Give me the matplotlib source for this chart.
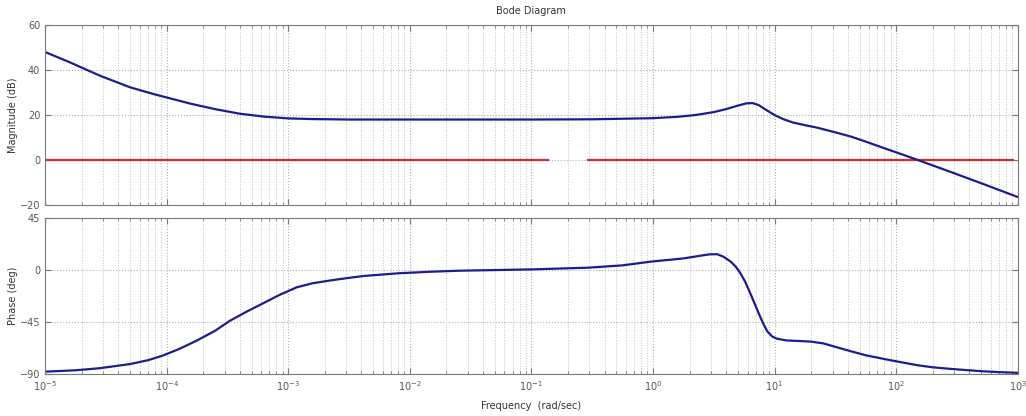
import matplotlib.pyplot as plt
import numpy as np
from matplotlib.ticker import FixedLocator, NullFormatter, LogFormatterMathtext

# Magnitude curve (log10 of rad/sec, dB)
mag_logw = [-5.0, -4.8, -4.55, -4.3, -4.1, -4.0, -3.8, -3.6, -3.4, -3.2,
            -3.0, -2.8, -2.5, -2.0, -1.0, -0.5, 0.0, 0.2, 0.35, 0.5, 0.6,
            0.7, 0.77, 0.82, 0.87, 0.93, 1.0, 1.07, 1.15, 1.25, 1.35, 1.5,
            1.63, 1.75, 1.9, 2.05, 2.2, 2.45, 2.72, 3.0]
mag_db = [48.0, 43.5, 37.5, 32.3, 29.2, 27.8, 25.0, 22.6, 20.6, 19.3,
          18.5, 18.2, 18.0, 18.0, 18.0, 18.1, 18.6, 19.2, 20.0, 21.3, 22.6,
          24.2, 25.2, 25.3, 24.4, 22.3, 20.0, 18.2, 16.7, 15.5, 14.4, 12.3,
          10.4, 8.2, 5.3, 2.5, -0.4, -5.3, -10.7, -16.4]

# Phase curve (log10 of rad/sec, deg)
ph_logw = [-5.0, -4.75, -4.55, -4.3, -4.15, -4.03, -3.9, -3.75, -3.6, -3.48,
           -3.35, -3.21, -3.07, -2.93, -2.8, -2.65, -2.5, -2.38, -2.1, -1.83,
           -1.58, -1.0, -0.53, -0.25, -0.02, 0.25, 0.4, 0.47, 0.53, 0.58,
           0.64, 0.68, 0.72, 0.76, 0.8, 0.84, 0.88, 0.91, 0.94, 0.98, 1.02,
           1.1, 1.21, 1.3, 1.4, 1.5, 1.63, 1.75, 1.9, 2.05, 2.18, 2.3, 2.45,
           2.6, 2.72, 2.85, 3.0]
ph_deg = [-88.0, -86.8, -85.0, -81.4, -78.0, -74.0, -68.5, -61.0, -52.5, -44.0,
          -36.5, -29.0, -21.5, -15.0, -11.5, -9.0, -6.8, -5.2, -2.9, -1.5,
          -0.6, 0.5, 2.0, 4.0, 7.2, 10.0, 12.5, 13.6, 13.6, 11.5,
          7.2, 3.0, -2.9, -10.5, -20.0, -30.0, -40.0, -47.0, -53.0, -57.5, -59.5,
          -61.0, -61.5, -62.0, -63.5, -66.5, -70.4, -73.8, -77.0, -80.0, -82.5, -84.2, -85.6,
          -86.8, -87.7, -88.4, -89.0]

# 0 dB reference line, drawn in two pieces
ref1_w = [1e-5, 0.138]
ref2_w = [0.295, 910.0]
ref_db = [0, 0]

decades = [-5, -4, -3, -2, -1, 0, 1, 2, 3]

mag_w = 10.0 ** np.array(mag_logw)
ph_w = 10.0 ** np.array(ph_logw)
major_w = [10.0 ** d for d in decades]
minor_w = [m * 10.0 ** d for d in decades[:-1] for m in range(2, 10)]

fig = plt.figure(figsize=(10.26, 4.16), dpi=100)
ax1 = fig.add_axes([0.0439, 0.507, 0.948, 0.433])
ax2 = fig.add_axes([0.0439, 0.101, 0.948, 0.375])

blue = '#1c1c8f'
red = '#d42b2b'
gray = '#7a7a7a'

ax1.plot(ref1_w, ref_db, color=red, lw=1.6)
ax1.plot(ref2_w, ref_db, color=red, lw=1.6)
ax1.plot(mag_w, mag_db, color=blue, lw=1.6)
ax2.plot(ph_w, ph_deg, color=blue, lw=1.6)

for ax in (ax1, ax2):
    ax.set_xscale('log')
    ax.set_xlim(1e-5, 1e3)
    ax.xaxis.set_major_locator(FixedLocator(major_w))
    ax.xaxis.set_major_formatter(LogFormatterMathtext())
    ax.xaxis.set_minor_locator(FixedLocator(minor_w))
    ax.xaxis.set_minor_formatter(NullFormatter())
    ax.grid(True, which='major', ls=':', color='#b0b0b0', lw=0.8)
    ax.grid(True, which='minor', axis='x', ls=':', color='#c0c0c0', lw=0.7)
    ax.tick_params(which='both', direction='in', top=True, right=True,
                   colors=gray, labelsize=7, labelcolor='#555555')
    ax.tick_params(which='major', length=4)
    ax.tick_params(which='minor', length=2.5)
    for s in ax.spines.values():
        s.set_color(gray)
        s.set_linewidth(0.8)

ax1.set_ylim(-20, 60)
ax1.yaxis.set_major_locator(FixedLocator([-20, 0, 20, 40, 60]))
ax1.tick_params(labelbottom=False)
ax1.set_ylabel('Magnitude (dB)', fontsize=7, color='#333333', labelpad=1)
ax1.set_title('Bode Diagram', fontsize=7, color='#333333', pad=8)

ax2.set_ylim(-90, 45)
ax2.yaxis.set_major_locator(FixedLocator([-90, -45, 0, 45]))
ax2.set_ylabel('Phase (deg)', fontsize=7, color='#333333', labelpad=1)
ax2.set_xlabel('Frequency  (rad/sec)', fontsize=7, color='#333333', labelpad=6)

fig.savefig('out.png', dpi=100)
